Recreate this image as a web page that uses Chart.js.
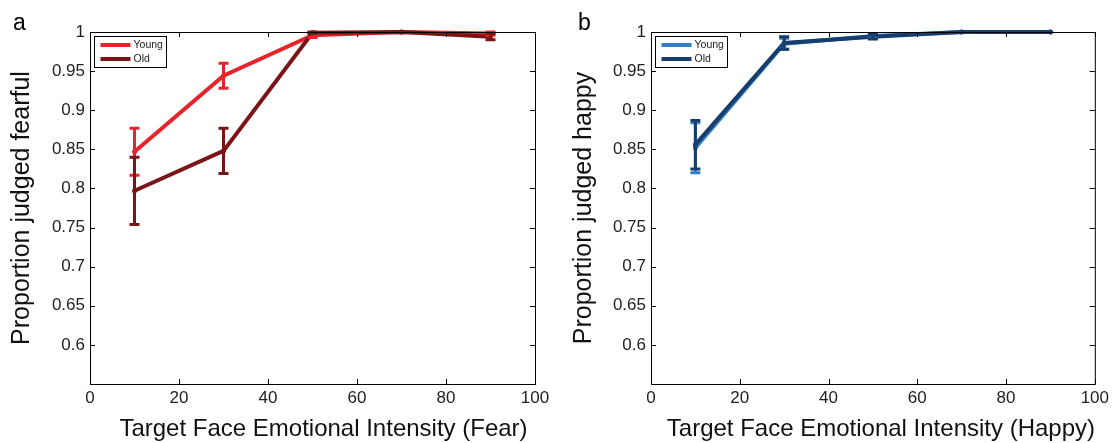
<!DOCTYPE html>
<html>
<head>
<meta charset="utf-8">
<script src="https://cdn.jsdelivr.net/npm/chart.js@4.4.0/dist/chart.umd.min.js"></script>
<style>
  body { margin: 0; background: #fff; }
  .row { display: flex; width: 1113px; height: 443px; }
  .panel { position: relative; height: 443px; }
</style>
</head>
<body>
<div class="row">
  <div class="panel" style="width:556px"><canvas id="fearChart"></canvas></div>
  <div class="panel" style="width:557px"><canvas id="happyChart"></canvas></div>
</div>
<script>
// x values (emotional intensity, %)
const intensity = [10, 30, 50, 70, 90];

// panel a - fear
const fearYoung = [0.847, 0.944, 0.996, 1.0, 0.998];
const fearYoungErr = [0.030, 0.016, 0.003, 0, 0.002];
const fearOld = [0.797, 0.848, 0.999, 1.0, 0.994];
const fearOldErr = [0.043, 0.029, 0.001, 0, 0.004];

// panel b - happy
const happyYoung = [0.852, 0.985, 0.995, 1.0, 1.0];
const happyYoungErr = [0.032, 0.007, 0.003, 0, 0];
const happyOld = [0.856, 0.986, 0.994, 1.0, 1.0];
const happyOldErr = [0.031, 0.008, 0.003, 0, 0];

const groupLabels = ['Young', 'Old'];
const xTicks = [0, 20, 40, 60, 80, 100];

const FONT = "'Liberation Sans', Arial, Helvetica, sans-serif";

// matlab style box + inward tick marks, error bars, legend, panel letter
const matlabPlugin = {
  id: 'matlab',
  afterDatasetsDraw(chart) {
    const ctx = chart.ctx;
    const xs = chart.scales.x, ys = chart.scales.y;
    chart.data.datasets.forEach((ds) => {
      if (!ds.errs) return;
      ctx.save();
      ctx.strokeStyle = ds.borderColor;
      ctx.lineWidth = 3;
      ds.data.forEach((pt, i) => {
        const e = ds.errs[i];
        if (!e) return;
        const px = xs.getPixelForValue(pt.x);
        const top = ys.getPixelForValue(pt.y + e);
        const bot = ys.getPixelForValue(pt.y - e);
        ctx.beginPath();
        ctx.moveTo(px, top); ctx.lineTo(px, bot);
        ctx.moveTo(px - 5, top); ctx.lineTo(px + 5, top);
        ctx.moveTo(px - 5, bot); ctx.lineTo(px + 5, bot);
        ctx.stroke();
      });
      ctx.restore();
    });
  },
  afterDraw(chart, args, opts) {
    const ctx = chart.ctx;
    const a = chart.chartArea;
    const xs = chart.scales.x, ys = chart.scales.y;
    ctx.save();
    ctx.strokeStyle = '#000';
    ctx.lineWidth = 1;
    ctx.strokeRect(a.left + 0.5, a.top + 0.5, a.right - a.left, a.bottom - a.top);
    ctx.beginPath();
    xs.ticks.forEach(t => {
      const px = Math.round(xs.getPixelForValue(t.value)) + 0.5;
      ctx.moveTo(px, a.bottom); ctx.lineTo(px, a.bottom - 5);
      ctx.moveTo(px, a.top); ctx.lineTo(px, a.top + 5);
    });
    ys.ticks.forEach(t => {
      const py = Math.round(ys.getPixelForValue(t.value)) + 0.5;
      ctx.moveTo(a.left, py); ctx.lineTo(a.left + 5, py);
      ctx.moveTo(a.right, py); ctx.lineTo(a.right - 5, py);
    });
    ctx.stroke();

    // legend box
    const lx = a.left + 4.5, ly = a.top + 4.5;
    ctx.fillStyle = '#fff';
    ctx.fillRect(lx, ly, 72, 31);
    ctx.strokeRect(lx, ly, 72, 31);
    ctx.font = '10.5px ' + FONT;
    ctx.textBaseline = 'middle';
    chart.data.datasets.forEach((ds, i) => {
      const yy = ly + 8.5 + i * 14;
      ctx.strokeStyle = ds.borderColor;
      ctx.lineWidth = 4;
      ctx.beginPath();
      ctx.moveTo(lx + 6, yy); ctx.lineTo(lx + 36, yy);
      ctx.stroke();
      ctx.fillStyle = '#222';
      ctx.fillText(ds.label, lx + 39, yy + 0.5);
    });

    // x axis title (sits a little right of centre in the original)
    ctx.fillStyle = '#111';
    ctx.font = '24px ' + FONT;
    ctx.textAlign = 'center';
    ctx.textBaseline = 'middle';
    ctx.fillText(opts.xTitle, (a.left + a.right) / 2 + opts.xTitleShift, 429);

    // panel letter
    ctx.fillStyle = '#000';
    ctx.font = '23px ' + FONT;
    ctx.textAlign = 'left';
    ctx.textBaseline = 'alphabetic';
    ctx.fillText(opts.letter, opts.letterX, 30);
    ctx.restore();
  }
};

function toPoints(ys) {
  return intensity.map((x, i) => ({ x: x, y: ys[i] }));
}

function makeChart(id, cfg) {
  const ds = (label, vals, errs, color, order) => ({
    label: label,
    data: toPoints(vals),
    errs: errs,
    borderColor: color,
    backgroundColor: color,
    borderWidth: 4,
    pointRadius: 2.5,
    pointHoverRadius: 2.5,
    pointBorderWidth: 0,
    tension: 0,
    clip: 10,
    order: order
  });
  return new Chart(document.getElementById(id), {
    type: 'line',
    data: {
      datasets: [
        ds(groupLabels[0], cfg.young, cfg.youngErr, cfg.colors[0], 1),
        ds(groupLabels[1], cfg.old, cfg.oldErr, cfg.colors[1], 0)
      ]
    },
    options: {
      responsive: true,
      maintainAspectRatio: false,
      animation: false,
      layout: { padding: { left: 0, top: 32, right: cfg.rightPad, bottom: 0 } },
      plugins: {
        legend: { display: false },
        tooltip: { enabled: false },
        matlab: { letter: cfg.letter, letterX: cfg.letterX, xTitle: cfg.xTitle, xTitleShift: cfg.xTitleShift }
      },
      scales: {
        x: {
          type: 'linear',
          min: 0, max: 100,
          afterBuildTicks: (s) => { s.ticks = xTicks.map(v => ({ value: v })); },
          grid: { display: false, drawTicks: false },
          border: { display: false },
          ticks: { color: '#222', padding: 4, font: { family: FONT, size: 17 }, maxRotation: 0 },
          afterFit: (s) => { s.height = 59; }
        },
        y: {
          min: 0.55, max: 1,
          grid: { display: false, drawTicks: false },
          border: { display: false },
          ticks: {
            stepSize: 0.05, color: '#222', padding: 5,
            font: { family: FONT, size: 17 },
            callback: (v) => Math.abs(v - 0.55) < 1e-6 ? '' : String(+v.toFixed(2))
          },
          title: { display: true, text: cfg.yTitle, color: '#111', padding: { top: cfg.yTitlePad, bottom: 0 }, font: { family: FONT, size: 25 } },
          afterFit: (s) => { s.width = cfg.leftWidth; }
        }
      }
    },
    plugins: [matlabPlugin]
  });
}

makeChart('fearChart', {
  young: fearYoung, youngErr: fearYoungErr,
  old: fearOld, oldErr: fearOldErr,
  colors: ['#e8242b', '#7a1416'],
  yTitle: 'Proportion judged fearful',
  xTitle: 'Target Face Emotional Intensity (Fear)',
  xTitleShift: 11,
  letter: 'a', letterX: 13,
  leftWidth: 90, rightPad: 21, yTitlePad: 7
});

makeChart('happyChart', {
  young: happyYoung, youngErr: happyYoungErr,
  old: happyOld, oldErr: happyOldErr,
  colors: ['#2f80c8', '#163d6b'],
  yTitle: 'Proportion judged happy',
  xTitle: 'Target Face Emotional Intensity (Happy)',
  xTitleShift: 8,
  letter: 'b', letterX: 22,
  leftWidth: 95, rightPad: 16, yTitlePad: 13
});
</script>
</body>
</html>
